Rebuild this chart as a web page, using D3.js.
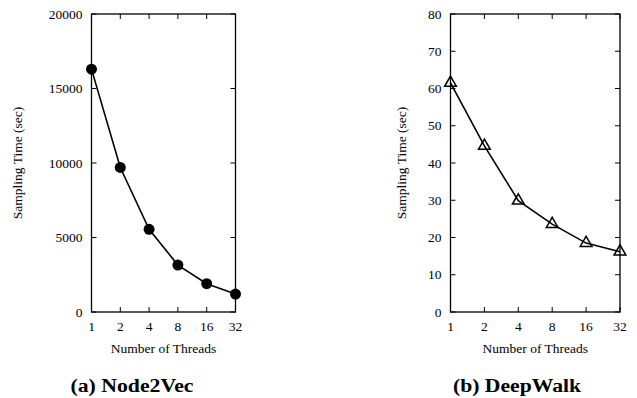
<!DOCTYPE html>
<html>
<head>
<meta charset="utf-8">
<script src="https://cdn.jsdelivr.net/npm/d3@7"></script>
<style>
  body { margin: 0; background: #fff; }
</style>
</head>
<body>
<svg id="chart" width="637" height="398" font-family="'Liberation Serif', 'Times New Roman', serif"></svg>
<script>
// thread counts on the x axis
const threads = [1, 2, 4, 8, 16, 32];
// sampling times
const node2vecTime = [16300, 9700, 5550, 3150, 1900, 1200];
const deepwalkTime = [61.5, 44.6, 29.9, 23.6, 18.5, 16.2];
const node2vecTicks = [0, 5000, 10000, 15000, 20000];
const deepwalkTicks = [0, 10, 20, 30, 40, 50, 60, 70, 80];

const svg = d3.select("#chart");
const serif = "'Liberation Serif', 'Times New Roman', serif";

function drawPanel(opt) {
    const x = d3.scaleLog().base(2).domain([1, 32]).range([opt.left, opt.right]);
    const y = d3.scaleLinear().domain(opt.yDomain).range([312, 14]);
    const g = svg.append("g").style("font-family", serif);
    const tickLen = 5;

    // frame
    g.append("rect")
        .attr("x", opt.left).attr("y", 14)
        .attr("width", opt.right - opt.left).attr("height", 298)
        .attr("fill", "none").attr("stroke", "#000").attr("stroke-width", 1.3);

    // inward ticks bottom / top
    threads.forEach(function(t) {
        g.append("line").attr("x1", x(t)).attr("x2", x(t)).attr("y1", 312).attr("y2", 312 - tickLen)
            .attr("stroke", "#000").attr("stroke-width", 1);
        g.append("line").attr("x1", x(t)).attr("x2", x(t)).attr("y1", 14).attr("y2", 14 + tickLen)
            .attr("stroke", "#000").attr("stroke-width", 1);
        g.append("text").attr("x", x(t)).attr("y", 331)
            .attr("text-anchor", "middle").style("font-size", "13.5px").text(t);
    });
    // inward ticks left / right
    opt.yTicks.forEach(function(v) {
        g.append("line").attr("x1", opt.left).attr("x2", opt.left + tickLen).attr("y1", y(v)).attr("y2", y(v))
            .attr("stroke", "#000").attr("stroke-width", 1);
        g.append("line").attr("x1", opt.right).attr("x2", opt.right - tickLen).attr("y1", y(v)).attr("y2", y(v))
            .attr("stroke", "#000").attr("stroke-width", 1);
        g.append("text").attr("x", opt.left - 9).attr("y", y(v) + 4.5)
            .attr("text-anchor", "end").style("font-size", "13.5px").text(v);
    });

    // line
    const line = d3.line().x((d, i) => x(threads[i])).y(d => y(d));
    g.append("path").datum(opt.values)
        .attr("d", line).attr("fill", "none")
        .attr("stroke", "#000").attr("stroke-width", 1.6);

    // markers
    if (opt.marker === "circle") {
        g.selectAll("circle.pt").data(opt.values).join("circle")
            .attr("class", "pt")
            .attr("cx", (d, i) => x(threads[i])).attr("cy", d => y(d))
            .attr("r", 5.5).attr("fill", "#000");
    } else {
        const tri = d3.symbol().type(d3.symbolTriangle).size(60);
        g.selectAll("path.pt").data(opt.values).join("path")
            .attr("class", "pt")
            .attr("transform", (d, i) => `translate(${x(threads[i])},${y(d)})`)
            .attr("d", tri).attr("fill", "none")
            .attr("stroke", "#000").attr("stroke-width", 1.5);
    }

    // axis titles
    g.append("text").attr("x", (opt.left + opt.right) / 2).attr("y", 353)
        .attr("text-anchor", "middle").style("font-size", "13.5px").text("Number of Threads");
    g.append("text")
        .attr("transform", `translate(${opt.yLabelX},163) rotate(-90)`)
        .attr("text-anchor", "middle").style("font-size", "13.5px").text("Sampling Time (sec)");

    // caption
    g.append("text").attr("x", opt.captionX).attr("y", 392)
        .attr("text-anchor", "middle")
        .attr("textLength", opt.captionW).attr("lengthAdjust", "spacingAndGlyphs")
        .style("font-size", "18px").style("font-weight", "bold")
        .text(opt.caption);
}

drawPanel({
    left: 91.5, right: 235.5, yDomain: [0, 20000], yTicks: node2vecTicks,
    values: node2vecTime, marker: "circle", yLabelX: 22,
    caption: "(a) Node2Vec", captionX: 132, captionW: 123
});
drawPanel({
    left: 450.5, right: 620, yDomain: [0, 80], yTicks: deepwalkTicks,
    values: deepwalkTime, marker: "triangle", yLabelX: 406,
    caption: "(b) DeepWalk", captionX: 517, captionW: 128
});
</script>
</body>
</html>
